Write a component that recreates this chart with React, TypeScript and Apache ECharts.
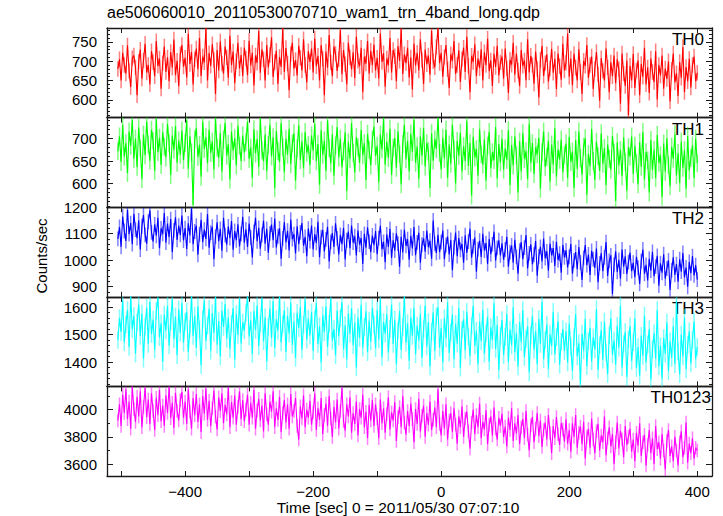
import React, { useEffect, useRef } from "react";
import * as echarts from "echarts";

// ---------- data (evenly spaced from -505 s to 400 s) ----------
const T_START = -505;
const T_END = 400;

const TH0 = [
  680, 705, 650, 722, 690, 668, 741, 675, 633, 708, 715, 684, 612, 699, 730, 655, 702, 745, 671, 690, 640, 726, 698, 661, 752, 688, 707, 629, 695, 738, 672, 710, 648, 724, 683, 756, 664, 701, 635, 718,
  742, 686, 709, 658, 771, 693, 724, 640, 705, 733, 679, 760, 662, 712, 697, 785, 650, 721, 688, 744, 703, 615, 729, 676, 751, 694, 668, 738, 710, 657, 766, 690, 725, 643, 700, 748, 681, 716, 662, 735,
  707, 664, 753, 689, 722, 637, 715, 696, 778, 670, 731, 705, 650, 742, 684, 716, 762, 659, 698, 727, 641, 711, 685, 786, 672, 734, 694, 625, 719, 748, 681, 703, 663, 740, 709, 676, 757, 690, 645, 726,
  698, 733, 671, 759, 687, 714, 650, 742, 706, 612, 725, 683, 768, 697, 661, 738, 719, 675, 705, 781, 666, 729, 692, 640, 748, 710, 679, 723, 656, 764, 701, 687, 735, 620, 712, 694, 752, 668, 727, 690,
  743, 676, 709, 655, 772, 698, 721, 634, 707, 690, 760, 671, 729, 713, 648, 739, 701, 784, 667, 718, 695, 735, 658, 710, 627, 746, 689, 722, 676, 757, 703, 641, 730, 692, 715, 665, 779, 700, 684, 737,
  786, 695, 722, 660, 711, 742, 679, 631, 718, 701, 752, 667, 690, 728, 646, 705, 735, 672, 763, 688, 620, 714, 698, 744, 661, 707, 682, 731, 650, 723, 690, 758, 674, 702, 636, 719, 685, 740, 663, 697,
  712, 655, 733, 682, 618, 704, 691, 748, 665, 720, 676, 636, 729, 688, 702, 651, 757, 671, 714, 690, 642, 725, 680, 606, 703, 739, 662, 695, 718, 647, 681, 732, 670, 706, 628, 720, 687, 652, 745, 676,
  696, 772, 660, 707, 638, 719, 683, 650, 731, 672, 615, 701, 688, 742, 657, 690, 712, 628, 680, 724, 666, 598, 708, 675, 650, 733, 684, 620, 697, 661, 715, 643, 705, 679, 590, 720, 668, 636, 702, 560,
  688, 650, 719, 631, 676, 702, 612, 693, 660, 735, 640, 684, 618, 707, 672, 646, 726, 601, 690, 663, 715, 629, 681, 654, 700, 596, 678, 720, 645, 669, 610, 698, 657, 737, 620, 685, 648, 706, 632, 690,
  712, 648, 670,
];

const TH1 = [
  672, 705, 648, 731, 660, 690, 623, 716, 684, 742, 655, 700, 637, 725, 678, 610, 709, 663, 738, 687, 651, 720, 695, 628, 744, 670, 702, 641, 715, 682, 658, 733, 690, 619, 707, 675, 728, 646, 696, 664,
  718, 652, 690, 741, 633, 705, 670, 552, 699, 724, 659, 686, 615, 738, 677, 703, 645, 720, 668, 694, 631, 745, 680, 657, 712, 626, 698, 735, 662, 688, 609, 716, 673, 701, 640, 729, 684, 650, 707, 669,
  692, 738, 655, 680, 612, 721, 667, 699, 637, 745, 674, 650, 709, 628, 686, 731, 660, 703, 590, 717, 672, 648, 735, 681, 625, 700, 664, 722, 643, 689, 712, 606, 678, 730, 652, 694, 634, 715, 669, 686,
  641, 707, 673, 733, 650, 688, 597, 719, 664, 696, 628, 741, 679, 645, 710, 617, 685, 726, 658, 700, 636, 672, 714, 583, 692, 655, 735, 668, 624, 703, 681, 646, 720, 663, 690, 608, 711, 675, 640, 698,
  727, 661, 684, 603, 709, 676, 745, 642, 693, 657, 722, 619, 680, 701, 635, 716, 666, 598, 688, 731, 654, 695, 627, 711, 670, 742, 646, 683, 610, 705, 662, 724, 638, 690, 672, 590, 712, 651, 699, 677,
  746, 668, 631, 702, 655, 720, 612, 687, 644, 731, 676, 600, 695, 662, 713, 627, 683, 650, 740, 639, 690, 573, 704, 658, 677, 618, 721, 665, 642, 698, 606, 684, 715, 634, 670, 652, 726, 611, 688, 647,
  700, 631, 678, 652, 719, 596, 686, 640, 705, 663, 580, 694, 627, 712, 655, 672, 610, 733, 646, 690, 621, 681, 665, 702, 588, 670, 716, 637, 659, 695, 604, 687, 642, 723, 615, 676, 653, 698, 625, 664,
  689, 612, 704, 648, 671, 590, 697, 633, 716, 657, 620, 682, 701, 575, 666, 638, 722, 650, 608, 693, 661, 628, 712, 644, 679, 596, 687, 655, 631, 706, 669, 561, 692, 640, 675, 616, 703, 648, 584, 681,
  660, 705, 621, 684, 645, 598, 692, 637, 715, 609, 670, 652, 580, 697, 630, 675, 612, 708, 646, 663, 570, 689, 626, 701, 641, 594, 682, 655, 710, 618, 668, 601, 693, 635, 674, 588, 706, 629, 657, 685,
  612, 700, 645,
];

const TH2 = [
  1080, 1125, 1050, 1165, 1110, 1072, 1190, 1098, 1140, 1060, 1175, 1115, 1083, 1150, 1040, 1128, 1170, 1095, 1062, 1145, 1188, 1105, 1070, 1135, 1092, 1160, 1045, 1120, 1099, 1178, 1066, 1138, 1087, 1155, 1030, 1112, 1162, 1076, 1130, 1095,
  1168, 1074, 1121, 1042, 1139, 1093, 1196, 1060, 1108, 1130, 1020, 1097, 1152, 1068, 1115, 1080, 1174, 1047, 1104, 1126, 1003, 1089, 1143, 1071, 1118, 1035, 1160, 1094, 1058, 1127, 1083, 1148, 1039, 1110, 1075, 1135, 1052, 1099, 1164, 1066,
  1116, 1050, 1138, 1085, 1010, 1107, 1160, 1071, 1122, 1043, 1095, 1149, 1062, 1118, 1028, 1101, 1134, 1075, 1157, 1048, 1090, 1120, 1005, 1082, 1143, 1067, 1111, 1036, 1153, 1079, 1098, 1025, 1128, 1060, 1105, 1140, 1054, 1088, 1015, 1119,
  1072, 1131, 1040, 1098, 1065, 1145, 1011, 1087, 1114, 1033, 1078, 1126, 995, 1069, 1102, 1050, 1139, 1082, 1021, 1095, 1060, 1122, 1002, 1075, 1108, 1045, 1131, 1066, 1090, 1017, 1112, 1058, 1083, 985, 1099, 1047, 1124, 1070, 1030, 1093,
  1056, 1110, 1022, 1083, 1130, 1041, 1069, 992, 1097, 1050, 1118, 1008, 1075, 1036, 1101, 1062, 975, 1088, 1029, 1115, 1054, 1079, 1001, 1092, 1044, 1125, 1018, 1067, 1103, 990, 1058, 1082, 1032, 1112, 1049, 1073, 1005, 1150, 1061, 1027,
  1096, 1030, 1068, 1112, 1003, 1057, 1089, 1021, 1076, 962, 1048, 1104, 1015, 1083, 1039, 1061, 990, 1094, 1027, 1070, 1118, 1009, 1052, 1085, 956, 1041, 1073, 1012, 1099, 1036, 1064, 985, 1080, 1022, 1059, 1107, 998, 1046, 1075, 1018,
  1063, 1001, 1040, 1088, 975, 1030, 1055, 990, 1077, 1012, 948, 1036, 1068, 1003, 1047, 1095, 968, 1025, 1059, 984, 1020, 1072, 941, 1014, 1050, 995, 1081, 1007, 1033, 960, 1062, 1018, 1045, 978, 1069, 1000, 1024, 952, 1058, 1010,
  1037, 972, 1012, 1061, 948, 999, 1030, 965, 1049, 990, 925, 1008, 1057, 981, 1021, 944, 1035, 1003, 970, 1044, 916, 987, 1026, 958, 1010, 1068, 940, 997, 1018, 872, 982, 1033, 955, 1001, 929, 1040, 975, 1014, 947, 992,
  1028, 958, 990, 935, 1012, 971, 910, 996, 1040, 948, 982, 923, 1005, 960, 1031, 939, 975, 1016, 903, 988, 952, 1022, 930, 968, 999, 887, 962, 1010, 944, 985, 918, 1003, 956, 1027, 934, 972, 899, 993, 950, 1015,
  942, 981, 926,
];

const TH3 = [
  1480, 1560, 1510, 1625, 1472, 1538, 1590, 1455, 1640, 1520, 1568, 1430, 1545, 1610, 1495, 1577, 1412, 1530, 1598, 1466, 1620, 1502, 1555, 1445, 1587, 1634, 1490, 1541, 1400, 1573, 1515, 1605, 1460, 1548, 1630, 1483, 1566, 1425, 1592, 1507,
  1615, 1470, 1548, 1583, 1436, 1522, 1640, 1495, 1570, 1452, 1603, 1518, 1388, 1556, 1625, 1477, 1533, 1594, 1441, 1579, 1506, 1638, 1463, 1550, 1420, 1588, 1528, 1612, 1485, 1562, 1447, 1540, 1597, 1409, 1575, 1499, 1632, 1468, 1545, 1515,
  1578, 1640, 1493, 1552, 1429, 1586, 1517, 1606, 1458, 1540, 1633, 1476, 1563, 1402, 1529, 1595, 1488, 1622, 1450, 1557, 1514, 1640, 1471, 1538, 1590, 1436, 1569, 1503, 1617, 1462, 1548, 1415, 1580, 1524, 1601, 1445, 1536, 1628, 1481, 1559,
  1497, 1582, 1440, 1556, 1615, 1466, 1530, 1398, 1571, 1509, 1603, 1455, 1540, 1632, 1478, 1520, 1425, 1588, 1493, 1560, 1618, 1447, 1535, 1410, 1577, 1502, 1596, 1461, 1544, 1380, 1563, 1488, 1609, 1452, 1527, 1585, 1436, 1551, 1474, 1598,
  1536, 1450, 1590, 1482, 1630, 1417, 1547, 1503, 1574, 1435, 1521, 1610, 1466, 1555, 1392, 1514, 1586, 1444, 1528, 1640, 1470, 1541, 1405, 1563, 1495, 1598, 1428, 1533, 1478, 1575, 1415, 1520, 1606, 1457, 1546, 1384, 1510, 1581, 1440, 1567,
  1600, 1452, 1525, 1398, 1561, 1486, 1618, 1433, 1509, 1574, 1410, 1540, 1467, 1597, 1379, 1518, 1556, 1442, 1583, 1493, 1420, 1532, 1605, 1459, 1514, 1392, 1548, 1476, 1591, 1430, 1503, 1565, 1401, 1527, 1480, 1614, 1448, 1536, 1370, 1495,
  1553, 1425, 1492, 1575, 1400, 1518, 1461, 1600, 1436, 1507, 1384, 1546, 1472, 1590, 1418, 1485, 1530, 1362, 1499, 1568, 1445, 1512, 1392, 1557, 1466, 1620, 1410, 1480, 1537, 1375, 1502, 1458, 1583, 1428, 1490, 1549, 1390, 1474, 1520, 1440,
  1512, 1398, 1540, 1455, 1367, 1490, 1575, 1420, 1468, 1318, 1503, 1441, 1558, 1385, 1476, 1525, 1402, 1490, 1446, 1593, 1372, 1462, 1517, 1408, 1548, 1435, 1355, 1497, 1560, 1427, 1478, 1390, 1532, 1452, 1605, 1380, 1466, 1510, 1345, 1483,
  1530, 1404, 1472, 1560, 1378, 1455, 1350, 1496, 1422, 1570, 1398, 1465, 1520, 1336, 1447, 1505, 1412, 1590, 1385, 1458, 1340, 1488, 1430, 1545, 1366, 1476, 1415, 1530, 1392, 1622, 1438, 1355, 1500, 1420, 1562, 1374, 1462, 1512, 1395, 1480,
  1548, 1410, 1455,
];

const TH0123 = [
  3920, 4040, 3880, 4110, 3975, 4150, 3930, 4060, 3860, 4170, 4005, 3910, 4095, 3950, 4135, 3870, 4020, 4160, 3945, 4075, 3895, 4120, 3990, 3850, 4088, 3960, 4145, 3915, 4030, 3880, 4105, 3975, 4168, 3938, 4050, 3865, 4125, 3990, 3920, 4070,
  4130, 3940, 4060, 3895, 4150, 3985, 3860, 4085, 3960, 4115, 3910, 4040, 3835, 4100, 3970, 4155, 3925, 4065, 3880, 4010, 4140, 3950, 3855, 4090, 3990, 4120, 3900, 4035, 3965, 4165, 3870, 4055, 3940, 4105, 3890, 4020, 4135, 3930, 4070, 3915,
  4000, 4110, 3890, 4050, 3940, 4145, 3860, 3995, 4080, 3920, 4030, 3840, 4120, 3965, 3890, 4060, 3985, 4135, 3870, 4010, 3925, 4095, 3835, 3975, 4070, 3905, 4040, 3860, 4115, 3950, 3990, 4085, 3880, 3780, 4025, 3935, 4105, 3870, 4000, 3940,
  4065, 3890, 3980, 4120, 3850, 4010, 3925, 4085, 3820, 3960, 4045, 3880, 4100, 3935, 3800, 4020, 3905, 4075, 3860, 3990, 4160, 3915, 3845, 4040, 3950, 4090, 3830, 3975, 3895, 4060, 3810, 4005, 3940, 4110, 3870, 3985, 3790, 4035, 3920, 4070,
  3880, 4040, 3935, 3790, 4075, 3900, 4010, 3830, 3965, 4090, 3855, 3980, 3920, 4055, 3770, 3945, 4020, 3870, 4100, 3905, 3815, 3990, 3880, 4045, 3930, 3760, 4005, 3895, 4080, 3840, 3955, 4030, 3800, 3975, 3890, 4060, 3850, 3925, 4015, 3870,
  4150, 3895, 3810, 3990, 3860, 4040, 3780, 3920, 3975, 3835, 4010, 3890, 3750, 3950, 3870, 4025, 3800, 3935, 3985, 3840, 3715, 3905, 4000, 3820, 3960, 3870, 4045, 3790, 3910, 3855, 3995, 3745, 3890, 3950, 3810, 4015, 3860, 3780, 3940, 3880,
  3970, 3800, 3875, 3730, 3940, 3850, 4010, 3770, 3900, 3825, 3960, 3745, 3870, 3930, 3790, 3990, 3815, 3700, 3885, 3945, 3760, 3860, 3975, 3805, 3920, 3725, 3850, 3905, 3780, 3960, 3830, 3680, 3880, 3790, 3945, 3820, 3740, 3900, 3855, 3765,
  3930, 3750, 3850, 3690, 3900, 3800, 3960, 3720, 3830, 3875, 3745, 3910, 3640, 3800, 3860, 3720, 3935, 3780, 3680, 3840, 3895, 3700, 3810, 3760, 3950, 3665, 3790, 3870, 3730, 3820, 3600, 3760, 3905, 3715, 3845, 3780, 3650, 3880, 3740, 3800,
  3860, 3690, 3780, 3620, 3830, 3735, 3900, 3660, 3760, 3815, 3590, 3740, 3850, 3680, 3790, 3600, 3880, 3710, 3760, 3640, 3820, 3700, 3560, 3770, 3850, 3660, 3730, 3620, 3800, 3700, 3590, 3760, 3840, 3650, 3720, 3905, 3610, 3750, 3680, 3790,
  3640, 3720, 3700,
];

// error bar half-widths (counts/sec)
const ERRORS = [20, 20, 28, 32, 50];

const SERIES_NAMES = ["TH0", "TH1", "TH2", "TH3", "TH0123"];
const SERIES_VALUES = [TH0, TH1, TH2, TH3, TH0123];
const COLORS = ["#ff0000", "#00ff00", "#0000ff", "#00ffff", "#ff00ff"];

const Y_RANGES: [number, number][] = [
  [554, 786],
  [547, 747],
  [861, 1200],
  [1311, 1638],
  [3512, 4171],
];
const Y_MAJOR = [
  [600, 650, 700, 750],
  [600, 650, 700],
  [900, 1000, 1100, 1200],
  [1400, 1500, 1600],
  [3600, 3800, 4000],
];
const Y_MINOR_STEP = [10, 10, 20, 20, 100];

const X_RANGE: [number, number] = [-522, 423];
const X_TICKS = [-500, -400, -300, -200, -100, 0, 100, 200, 300, 400];
const X_LABELS = [-400, -200, 0, 200, 400];

const TITLE = "ae506060010_20110530070710_wam1_trn_4band_long.qdp";
const X_TITLE = "Time [sec] 0 = 2011/05/30 07:07:10";
const Y_TITLE = "Counts/sec";

const FONT = "Liberation Sans, Arial, Helvetica, sans-serif";
const AXIS_COLOR = "#1a1a1a";

function fmt(v: number) {
  return v < 0 ? "\u2212" + Math.abs(v) : String(v);
}

function minorTicks(range: [number, number], step: number, majors: number[]) {
  const out: number[] = [];
  const start = Math.ceil(range[0] / step) * step;
  for (let v = start; v <= range[1]; v += step) {
    if (!majors.includes(v)) out.push(v);
  }
  return out;
}

export default function App() {
  const ref = useRef<HTMLDivElement>(null);

  useEffect(() => {
    if (!ref.current) return;
    const chart = echarts.init(ref.current, null, { renderer: "svg" });

    const W = 723;
    const left = 107;
    const right = 712;
    const top0 = 28;
    const bottom = 476;
    const ph = (bottom - top0) / 5;

    const grids: any[] = [];
    const xAxes: any[] = [];
    const yAxes: any[] = [];
    const series: any[] = [];
    const graphics: any[] = [];

    const axisLineStyle = { color: AXIS_COLOR, width: 1.3 };

    for (let i = 0; i < 5; i++) {
      const top = top0 + ph * i;
      grids.push({ left, width: right - left, top, height: ph, containLabel: false });
      const isLast = i === 4;
      xAxes.push({
        type: "value",
        gridIndex: i,
        position: "bottom",
        min: X_RANGE[0],
        max: X_RANGE[1],
        axisLine: { show: true, onZero: false, lineStyle: axisLineStyle },
        axisTick: { show: true, inside: true, length: 5, customValues: X_TICKS, lineStyle: { color: AXIS_COLOR } },
        axisLabel: {
          show: isLast,
          customValues: X_LABELS,
          formatter: fmt,
          fontFamily: FONT,
          fontSize: 15,
          color: "#000",
          margin: 8,
        },
        splitLine: { show: false },
      });
      xAxes.push({
        type: "value",
        gridIndex: i,
        position: "top",
        min: X_RANGE[0],
        max: X_RANGE[1],
        axisLine: { show: true, onZero: false, lineStyle: axisLineStyle },
        axisTick: { show: true, inside: true, length: 5, customValues: X_TICKS, lineStyle: { color: AXIS_COLOR } },
        axisLabel: { show: false },
        splitLine: { show: false },
      });

      const range = Y_RANGES[i];
      const majors = Y_MAJOR[i];
      const minors = minorTicks(range, Y_MINOR_STEP[i], majors);
      const base = {
        type: "value",
        gridIndex: i,
        min: range[0],
        max: range[1],
        splitLine: { show: false },
      };
      yAxes.push({
        ...base,
        position: "left",
        axisLine: { show: true, onZero: false, lineStyle: axisLineStyle },
        axisTick: { show: true, inside: true, length: 6, customValues: majors, lineStyle: { color: AXIS_COLOR } },
        axisLabel: {
          show: true,
          customValues: majors,
          formatter: fmt,
          fontFamily: FONT,
          fontSize: 15,
          color: "#000",
          margin: 10,
        },
      });
      yAxes.push({
        ...base,
        position: "left",
        axisLine: { show: false, onZero: false },
        axisTick: { show: true, inside: true, length: 3, customValues: minors, lineStyle: { color: AXIS_COLOR } },
        axisLabel: { show: false },
      });
      yAxes.push({
        ...base,
        position: "right",
        axisLine: { show: true, onZero: false, lineStyle: axisLineStyle },
        axisTick: { show: true, inside: true, length: 6, customValues: majors, lineStyle: { color: AXIS_COLOR } },
        axisLabel: { show: false },
      });
      yAxes.push({
        ...base,
        position: "right",
        axisLine: { show: false, onZero: false },
        axisTick: { show: true, inside: true, length: 3, customValues: minors, lineStyle: { color: AXIS_COLOR } },
        axisLabel: { show: false },
      });

      const vals = SERIES_VALUES[i];
      const step = (T_END - T_START) / (vals.length - 1);
      const err = ERRORS[i];
      const color = COLORS[i];
      const lineData = vals.map((v, k) => [T_START + k * step, v]);
      const errData = vals.map((v, k) => [T_START + k * step, v, err]);

      series.push({
        type: "custom",
        xAxisIndex: i * 2,
        yAxisIndex: i * 4,
        clip: true,
        silent: true,
        data: errData,
        renderItem: (params: any, api: any) => {
          const x = api.value(0);
          const v = api.value(1);
          const e = api.value(2);
          const p1 = api.coord([x, v + e]);
          const p2 = api.coord([x, v - e]);
          return {
            type: "line",
            shape: { x1: p1[0], y1: p1[1], x2: p2[0], y2: p2[1] },
            style: { stroke: color, lineWidth: 1.5, opacity: 0.5 },
          };
        },
      });
      series.push({
        type: "line",
        name: SERIES_NAMES[i],
        xAxisIndex: i * 2,
        yAxisIndex: i * 4,
        data: lineData,
        showSymbol: false,
        symbol: "none",
        clip: true,
        lineStyle: { color, width: 1.1 },
        silent: true,
      });

      graphics.push({
        type: "text",
        right: isLast ? W - 711 : W - 704,
        top: top + 3,
        style: {
          text: SERIES_NAMES[i],
          fontFamily: FONT,
          fontSize: 17,
          fill: "#000",
        },
      });
    }

    graphics.push({
      type: "text",
      left: 107,
      top: 4,
      style: { text: TITLE, fontFamily: FONT, fontSize: 16, fill: "#000" },
    });
    graphics.push({
      type: "text",
      x: 398,
      y: 507,
      style: {
        text: X_TITLE,
        fontFamily: FONT,
        fontSize: 15.5,
        fill: "#000",
        textAlign: "center",
        textVerticalAlign: "middle",
      },
    });
    graphics.push({
      type: "text",
      x: 41,
      y: 256,
      rotation: Math.PI / 2,
      style: {
        text: Y_TITLE,
        fontFamily: FONT,
        fontSize: 15,
        fill: "#000",
        textAlign: "center",
        textVerticalAlign: "middle",
      },
    });

    chart.setOption({
      animation: false,
      backgroundColor: "#fff",
      grid: grids,
      xAxis: xAxes,
      yAxis: yAxes,
      series,
      graphic: graphics,
    });

    return () => chart.dispose();
  }, []);

  return (
    <div
      ref={ref}
      style={{ width: 723, height: 516, position: "absolute", left: 0, top: 0 }}
    />
  );
}
